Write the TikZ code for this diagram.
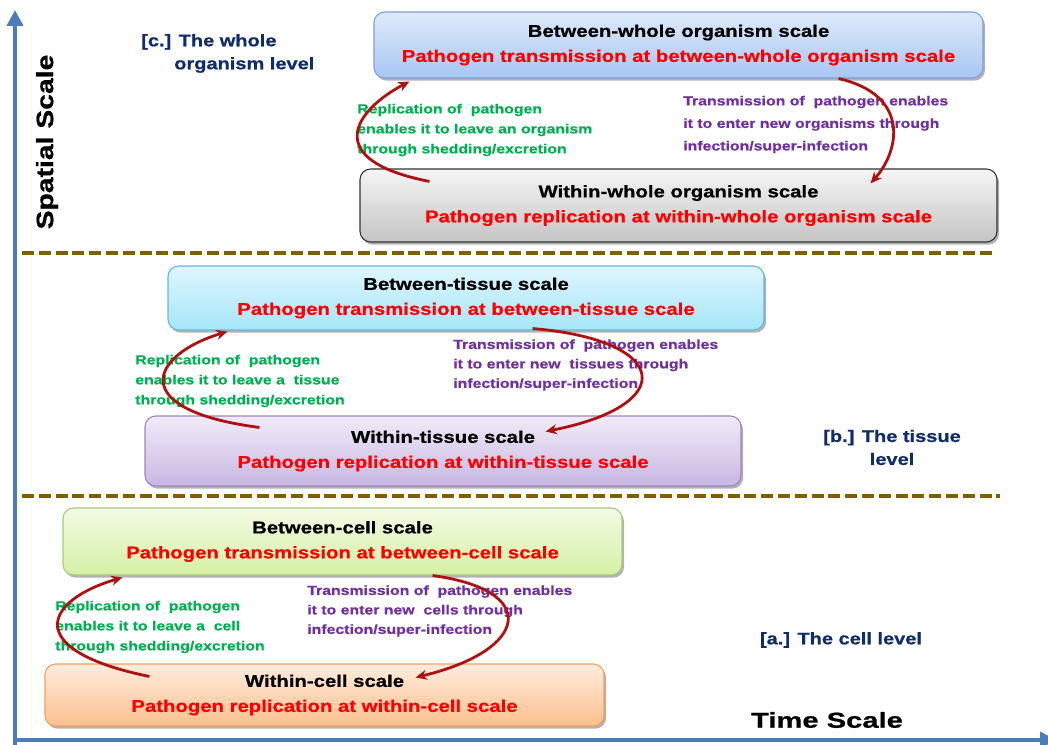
\documentclass[tikz,border=0pt]{standalone}
\usepackage{fontspec}
\setmainfont{Liberation Sans}[FakeStretch=1.2, BoldFeatures={FakeBold=0.8}]
\newfontfamily\timefont{Liberation Sans}[FakeStretch=1.35, BoldFeatures={FakeBold=0.8}]
\usetikzlibrary{arrows.meta,shadows,positioning,calc}

\definecolor{axisblue}{RGB}{74,126,187}
\definecolor{dashbrown}{RGB}{127,96,0}
\definecolor{navy}{RGB}{15,44,107}
\definecolor{arrowred}{RGB}{172,18,18}
\definecolor{pathred}{RGB}{255,0,0}
\definecolor{notegreen}{RGB}{0,176,80}
\definecolor{notepurple}{RGB}{112,48,160}

\tikzset{
  levelbox/.style={draw, rounded corners=8pt, line width=0.8pt, align=center, inner sep=0pt,
    font=\fontsize{12.7pt}{18.75pt}\selectfont\bfseries,
    drop shadow={shadow xshift=1.5pt, shadow yshift=-2pt, opacity=0.3, fill=black}},
  note/.style={align=left, anchor=west, inner sep=0pt},
  greennote/.style={note, text=notegreen, font=\fontsize{9.9pt}{15pt}\selectfont\bfseries},
  purplenote/.style={note, text=notepurple, font=\fontsize{9.9pt}{14.6pt}\selectfont\bfseries},
  levellabel/.style={text=navy, inner sep=0pt, font=\fontsize{12.5pt}{17.25pt}\selectfont\bfseries},
  flow/.style={draw=arrowred, line width=2.1pt, -{Stealth[length=8.5pt,width=7.5pt]}},
  axis/.style={draw=axisblue, line width=3pt, -{Triangle[length=12pt,width=12pt]}},
  divider/.style={draw=dashbrown, line width=2.6pt, dash pattern=on 9pt off 3.6pt},
}

\begin{document}
\begin{tikzpicture}[x=0.75pt, y=0.75pt]
\useasboundingbox (0,0) rectangle (1048,-745);

\coordinate (ybot) at (15,-745);
\coordinate (ytop) at (15,-10);
\coordinate (origin) at (13,-740);
\coordinate (xend) at (1056,-740);
\draw[axis] (ybot) -- (ytop);
\draw[axis] (origin) -- (xend);

\draw[divider] (22,-253) -- (993,-253);
\draw[divider] (22,-496) -- (1000,-496);

\node[levelbox, draw={rgb,255:red,126;green,160;blue,214}, top color={rgb,255:red,222;green,234;blue,250}, bottom color={rgb,255:red,168;green,198;blue,242}, minimum width=456.75pt, minimum height=49.5pt] (orgB) at (678.5,-45)
  {Between-whole organism scale\\\textcolor{pathred}{Pathogen transmission at between-whole organism scale}};
\node[levelbox, draw={rgb,255:red,50;green,50;blue,50}, top color={rgb,255:red,245;green,245;blue,245}, bottom color={rgb,255:red,196;green,196;blue,196}, minimum width=477.75pt, minimum height=54.75pt] (orgW) at (678.5,-205.5)
  {Within-whole organism scale\\\textcolor{pathred}{Pathogen replication at within-whole organism scale}};
\node[levelbox, draw={rgb,255:red,98;green,186;blue,214}, top color={rgb,255:red,222;green,246;blue,253}, bottom color={rgb,255:red,166;green,230;blue,250}, minimum width=447pt, minimum height=48pt] (tisB) at (466,-298)
  {Between-tissue scale\\\textcolor{pathred}{Pathogen transmission at between-tissue scale}};
\node[levelbox, draw={rgb,255:red,156;green,134;blue,190}, top color={rgb,255:red,241;green,235;blue,248}, bottom color={rgb,255:red,200;green,183;blue,226}, minimum width=447pt, minimum height=52.5pt] (tisW) at (443,-451)
  {Within-tissue scale\\\textcolor{pathred}{Pathogen replication at within-tissue scale}};
\node[levelbox, draw={rgb,255:red,170;green,200;blue,126}, top color={rgb,255:red,244;green,251;blue,228}, bottom color={rgb,255:red,212;green,240;blue,164}, minimum width=419.25pt, minimum height=50.25pt] (cellB) at (342.5,-541.5)
  {Between-cell scale\\\textcolor{pathred}{Pathogen transmission at between-cell scale}};
\node[levelbox, draw={rgb,255:red,242;green,160;blue,92}, top color={rgb,255:red,255;green,236;blue,222}, bottom color={rgb,255:red,251;green,192;blue,142}, minimum width=419.25pt, minimum height=46.5pt] (cellW) at (324.5,-695)
  {Within-cell scale\\\textcolor{pathred}{Pathogen replication at within-cell scale}};

\node[greennote] (orgOut) at (357,-130) {Replication of~ pathogen\\enables it to leave an organism\\through shedding/excretion};
\node[purplenote, font=\fontsize{9.9pt}{16.9pt}\selectfont\bfseries] (orgIn) at (683,-124.5) {Transmission of~ pathogen enables\\it to enter new organisms through\\infection/super-infection};
\node[greennote] (tisOut) at (135,-381) {Replication of~ pathogen\\enables it to leave a~ tissue\\through shedding/excretion};
\node[purplenote] (tisIn) at (453,-365) {Transmission of~ pathogen enables\\it to enter new~ tissues through\\infection/super-infection};
\node[greennote] (cellOut) at (55,-627) {Replication of~ pathogen\\enables it to leave a~ cell\\through shedding/excretion};
\node[purplenote] (cellIn) at (307,-611) {Transmission of~ pathogen enables\\it to enter new~ cells through\\infection/super-infection};

\node[levellabel, align=left, anchor=west] (labC) at (141,-53.5) {[c.] The whole\\\hspace*{24.75pt}organism level};
\node[levellabel, align=center] (labB) at (892,-447.5) {[b.] The tissue\\level};
\node[levellabel] (labA) at (841,-640) {[a.] The cell level};
\node[inner sep=0pt, font=\timefont\fontsize{16.2pt}{18pt}\selectfont\bfseries] (timeAxis) at (827,-720) {Time Scale};
\node[inner sep=0pt, rotate=90, font=\fontsize{17.7pt}{20pt}\selectfont\bfseries] (spaceAxis) at (47,-142) {Spatial Scale};

\draw[flow] ($(orgW.north west)+(70,-13)$) .. controls (320,-160) and (355,-110) .. ($(orgB.south west)+(36,-3)$);
\draw[flow] ($(orgB.south east)+(-145,0)$) .. controls (910,-95) and (900,-150) .. ($(orgW.north east)+(-127,-15)$);
\draw[flow] ($(tisW.north west)+(115,-12)$) .. controls (125,-410) and (150,-355) .. ($(tisB.south west)+(60,-1)$);
\draw[flow] ($(tisB.south east)+(-232,2)$) .. controls (670,-340) and (680,-405) .. ($(tisW.north east)+(-196,-16)$);
\draw[flow] ($(cellW.north west)+(105,-13)$) .. controls (20,-650) and (45,-600) .. ($(cellB.south west)+(60,-2)$);
\draw[flow] ($(cellB.south east)+(-190,0)$) .. controls (540,-590) and (530,-650) .. ($(cellW.north east)+(-189,-14)$);
\end{tikzpicture}
\end{document}
